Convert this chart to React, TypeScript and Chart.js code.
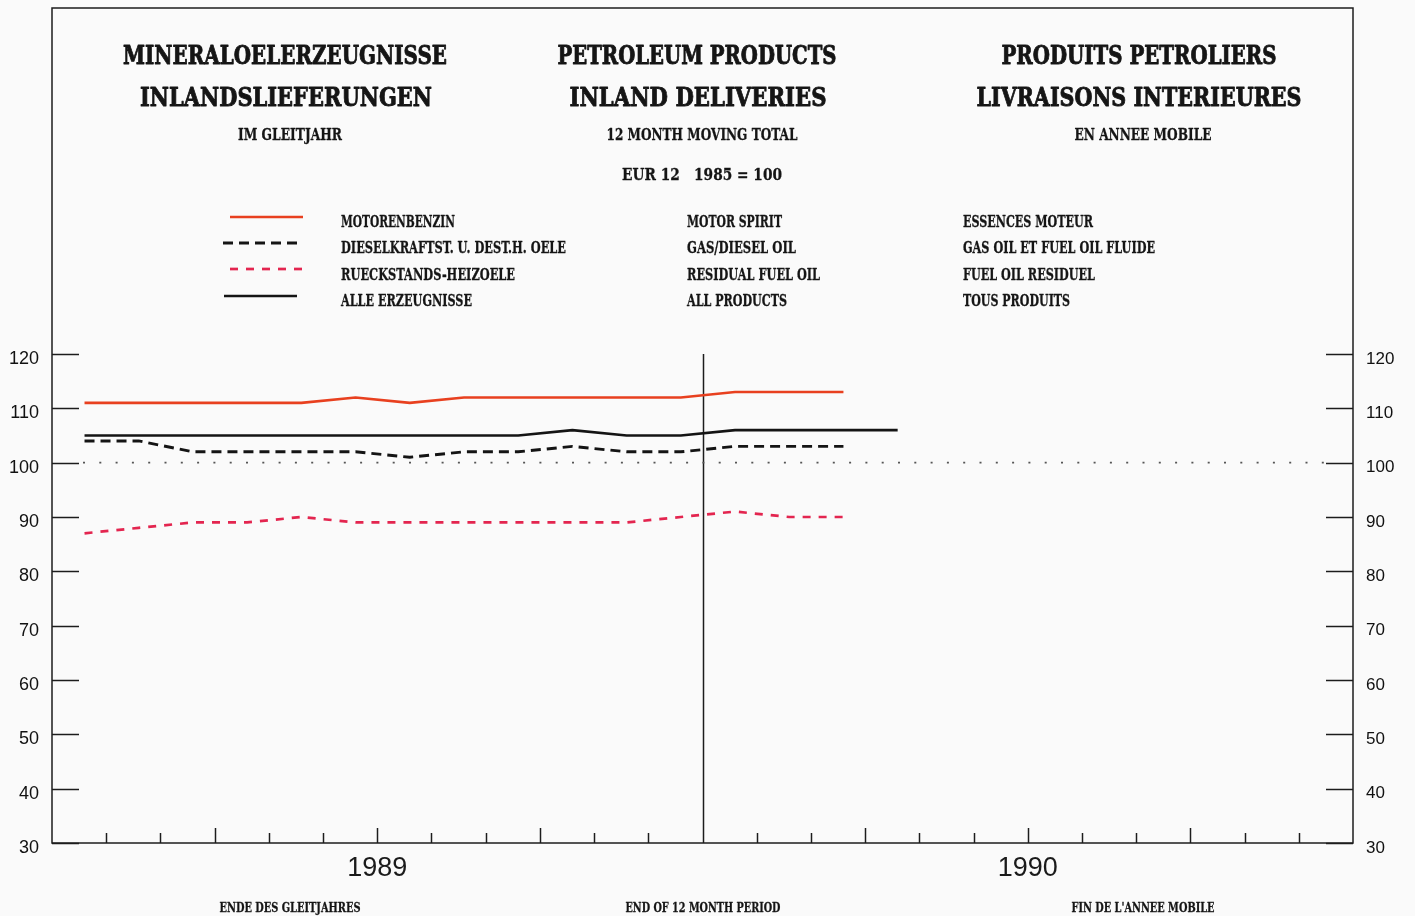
import React, { useEffect, useRef } from "react";
import { Chart, registerables } from "chart.js";

Chart.register(...registerables);

// ---- data ----
const months = [
  "JAN 89", "FEB 89", "MAR 89", "APR 89", "MAY 89", "JUN 89", "JUL 89", "AUG 89",
  "SEP 89", "OCT 89", "NOV 89", "DEC 89", "JAN 90", "FEB 90", "MAR 90", "APR 90",
];
const motorSpirit = [111, 111, 111, 111, 111, 112, 111, 112, 112, 112, 112, 112, 113, 113, 113];
const gasDieselOil = [104, 104, 102, 102, 102, 102, 101, 102, 102, 103, 102, 102, 103, 103, 103];
const residualFuelOil = [87, 88, 89, 89, 90, 89, 89, 89, 89, 89, 89, 90, 91, 90, 90];
const allProducts = [105, 105, 105, 105, 105, 105, 105, 105, 105, 106, 105, 105, 106, 106, 106, 106];

const years = ["1989", "1990"];
const yearCenters = [5.4, 17.4]; // mid-year on the month axis (month index of data points)
const yearBoundary = 11.4;
const axisMin = -0.6;
const axisMax = 23.4;
const yMin = 30;
const yMax = 120;
const baseValue = 100;

const seriesDE = ["MOTORENBENZIN", "DIESELKRAFTST. U. DEST.H. OELE", "RUECKSTANDS-HEIZOELE", "ALLE ERZEUGNISSE"];
const seriesEN = ["MOTOR SPIRIT", "GAS/DIESEL OIL", "RESIDUAL FUEL OIL", "ALL PRODUCTS"];
const seriesFR = ["ESSENCES MOTEUR", "GAS OIL ET FUEL OIL FLUIDE", "FUEL OIL RESIDUEL", "TOUS PRODUITS"];

const titleDE = ["MINERALOELERZEUGNISSE", "INLANDSLIEFERUNGEN", "IM GLEITJAHR"];
const titleEN = ["PETROLEUM PRODUCTS", "INLAND DELIVERIES", "12 MONTH MOVING TOTAL", "EUR 12   1985 = 100"];
const titleFR = ["PRODUITS PETROLIERS", "LIVRAISONS INTERIEURES", "EN ANNEE MOBILE"];
const footers = ["ENDE DES GLEITJAHRES", "END OF 12 MONTH PERIOD", "FIN DE L'ANNEE MOBILE"];

const SERIF = '"DejaVu Serif", "Liberation Serif", serif';
const SANS = '"Liberation Sans", Arial, sans-serif';

function toPoints(values: number[]) {
  return values.map((v, i) => ({ x: i, y: v, label: months[i] }));
}

function fitText(
  ctx: CanvasRenderingContext2D,
  text: string,
  x: number,
  y: number,
  px: number,
  width: number,
  align: CanvasTextAlign,
  stroke = 0
) {
  ctx.save();
  ctx.font = `bold ${px}px ${SERIF}`;
  const w = ctx.measureText(text).width;
  const s = width / w;
  ctx.translate(x, y);
  ctx.scale(s, 1);
  ctx.textAlign = align;
  ctx.textBaseline = "middle";
  ctx.fillStyle = "#151515";
  ctx.fillText(text, 0, 0);
  if (stroke > 0) {
    ctx.strokeStyle = "#151515";
    ctx.lineWidth = stroke;
    ctx.lineJoin = "round";
    ctx.strokeText(text, 0, 0);
  }
  ctx.restore();
}

const decorPlugin = {
  id: "decor",
  beforeDraw(chart: any) {
    const ctx: CanvasRenderingContext2D = chart.ctx;
    ctx.save();
    ctx.fillStyle = "#fafafa";
    ctx.fillRect(0, 0, chart.width, chart.height);
    ctx.restore();
  },
  beforeDatasetsDraw(chart: any) {
    const ctx: CanvasRenderingContext2D = chart.ctx;
    const { left, right, bottom } = chart.chartArea;
    const xs = chart.scales.x;
    const ys = chart.scales.y;
    ctx.save();
    ctx.strokeStyle = "#1c1c1c";
    ctx.lineWidth = 1.5;
    // frame
    ctx.strokeRect(left, 8, right - left, bottom - 8);
    // y ticks (inward), both sides
    for (let v = yMin; v <= yMax; v += 10) {
      const py = Math.round(ys.getPixelForValue(v)) + 0.5;
      ctx.beginPath();
      ctx.moveTo(left, py);
      ctx.lineTo(left + 27, py);
      ctx.moveTo(right - 27, py);
      ctx.lineTo(right, py);
      ctx.stroke();
    }
    // month ticks
    for (let k = 1; k < Math.round(axisMax - axisMin); k++) {
      const v = axisMin + k;
      const px = Math.round(xs.getPixelForValue(v)) + 0.5;
      ctx.beginPath();
      if (Math.abs(v - yearBoundary) < 1e-6) {
        ctx.moveTo(px, ys.getPixelForValue(yMax));
        ctx.lineTo(px, bottom);
      } else {
        const len = k % 3 === 0 ? 15 : 10;
        ctx.moveTo(px, bottom);
        ctx.lineTo(px, bottom - len);
      }
      ctx.stroke();
    }
    // dotted base line at 100
    const by = ys.getPixelForValue(baseValue);
    ctx.strokeStyle = "#555";
    ctx.lineWidth = 1.6;
    ctx.setLineDash([2, 14.3]);
    ctx.beginPath();
    ctx.moveTo(left + 31, by);
    ctx.lineTo(right - 26, by);
    ctx.stroke();
    ctx.setLineDash([]);
    ctx.restore();
  },
  afterDraw(chart: any) {
    const ctx: CanvasRenderingContext2D = chart.ctx;
    // titles
    fitText(ctx, titleDE[0], 285, 57, 26, 324, "center", 0.9);
    fitText(ctx, titleDE[1], 286, 99, 26, 292, "center", 0.9);
    fitText(ctx, titleDE[2], 290, 136, 17, 104, "center", 0.3);
    fitText(ctx, titleEN[0], 697, 57, 26, 279, "center", 0.9);
    fitText(ctx, titleEN[1], 698, 99, 26, 257, "center", 0.9);
    fitText(ctx, titleEN[2], 702, 136, 17, 191, "center", 0.3);
    fitText(ctx, titleEN[3], 702, 176, 17, 160, "center", 0.3);
    fitText(ctx, titleFR[0], 1139, 57, 26, 275, "center", 0.9);
    fitText(ctx, titleFR[1], 1139, 99, 26, 325, "center", 0.9);
    fitText(ctx, titleFR[2], 1143, 136, 17, 137, "center", 0.3);

    // legend
    const rowsY = [217, 243, 269, 296];
    const textY = [223, 249, 276, 302];
    const deW = [114, 225, 174, 131];
    const enW = [95, 109, 133, 100];
    const frW = [130, 192, 132, 107];
    const sampleX = [[230, 303], [223, 298], [230, 303], [224, 297]];
    chart.data.datasets.forEach((ds: any, i: number) => {
      ctx.save();
      ctx.strokeStyle = ds.borderColor;
      ctx.lineWidth = ds.borderWidth;
      ctx.setLineDash(ds.borderDash || []);
      ctx.beginPath();
      ctx.moveTo(sampleX[i][0], rowsY[i]);
      ctx.lineTo(sampleX[i][1], rowsY[i]);
      ctx.stroke();
      ctx.restore();
      fitText(ctx, seriesDE[i], 341, textY[i], 16, deW[i], "left", 0.3);
      fitText(ctx, seriesEN[i], 687, textY[i], 16, enW[i], "left", 0.3);
      fitText(ctx, seriesFR[i], 963, textY[i], 16, frW[i], "left", 0.3);
    });

    // footers
    fitText(ctx, footers[0], 290, 909, 13, 141, "center", 0.3);
    fitText(ctx, footers[1], 703, 909, 13, 155, "center", 0.3);
    fitText(ctx, footers[2], 1143, 909, 13, 143, "center", 0.3);
  },
};

export default function App() {
  const ref = useRef<HTMLCanvasElement | null>(null);

  useEffect(() => {
    if (!ref.current) return;
    const chart = new Chart(ref.current, {
      type: "line",
      data: {
        datasets: [
          {
            label: seriesEN[0],
            data: toPoints(motorSpirit),
            borderColor: "#e8401f",
            borderWidth: 2.6,
            pointRadius: 0,
            tension: 0,
            fill: false,
          },
          {
            label: seriesEN[1],
            data: toPoints(gasDieselOil),
            borderColor: "#141414",
            borderWidth: 2.9,
            borderDash: [10, 6],
            pointRadius: 0,
            tension: 0,
            fill: false,
          },
          {
            label: seriesEN[2],
            data: toPoints(residualFuelOil),
            borderColor: "#e3254f",
            borderWidth: 2.7,
            borderDash: [8, 8],
            pointRadius: 0,
            tension: 0,
            fill: false,
          },
          {
            label: seriesEN[3],
            data: toPoints(allProducts),
            borderColor: "#141414",
            borderWidth: 2.7,
            pointRadius: 0,
            tension: 0,
            fill: false,
          },
        ],
      },
      options: {
        animation: false,
        responsive: false,
        devicePixelRatio: 1,
        layout: { padding: { left: 8, right: 12, top: 354, bottom: 27 } },
        plugins: { legend: { display: false }, tooltip: { enabled: false } },
        scales: {
          x: {
            type: "linear",
            position: "bottom",
            min: axisMin,
            max: axisMax,
            grid: { display: false, drawTicks: false },
            border: { display: false },
            afterBuildTicks: (scale: any) => {
              scale.ticks = yearCenters.map((v) => ({ value: v }));
            },
            afterFit: (scale: any) => {
              scale.height = 46;
            },
            ticks: {
              autoSkip: false,
              maxRotation: 0,
              padding: 9,
              color: "#1a1a1a",
              font: { family: SANS, size: 27 },
              callback: (_v: any, i: number) => years[i],
            },
          },
          y: {
            type: "linear",
            position: "left",
            min: yMin,
            max: yMax,
            grid: { display: false, drawTicks: false },
            border: { display: false },
            afterFit: (scale: any) => {
              scale.width = 44;
            },
            ticks: { stepSize: 10, padding: 13, labelOffset: 5, color: "#111", font: { family: SANS, size: 18 } },
          },
          y2: {
            type: "linear",
            position: "right",
            min: yMin,
            max: yMax,
            grid: { display: false, drawTicks: false },
            border: { display: false },
            afterFit: (scale: any) => {
              scale.width = 50;
            },
            ticks: { stepSize: 10, padding: 13, labelOffset: 5, color: "#111", font: { family: SANS, size: 17 } },
          },
        },
      },
      plugins: [decorPlugin],
    } as any);
    return () => chart.destroy();
  }, []);

  return (
    <div style={{ position: "fixed", left: 0, top: 0, width: 1415, height: 916, background: "#fafafa" }}>
      <canvas ref={ref} width={1415} height={916} style={{ width: 1415, height: 916, display: "block" }} />
    </div>
  );
}
